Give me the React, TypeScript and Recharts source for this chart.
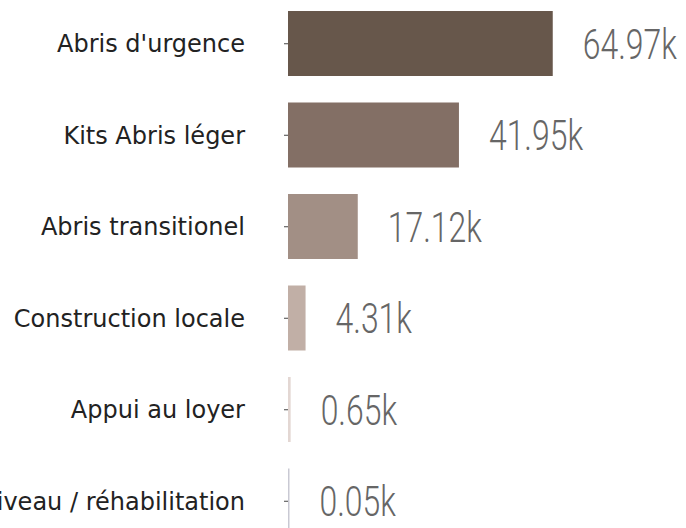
import { BarChart, Bar, XAxis, YAxis, Cell, LabelList } from "recharts";

const categories = [
  "Abris d'urgence",
  "Kits Abris léger",
  "Abris transitionel",
  "Construction locale",
  "Appui au loyer",
  "Mise à niveau / réhabilitation",
];

// values in thousands
const values = [64.97, 41.95, 17.12, 4.31, 0.65, 0.05];

const colors = ["#67574b", "#836f65", "#a28f85", "#c1afa6", "#e3d7d3", "#c9c9d3"];

const data = categories.map((name, i) => ({ name, value: values[i] }));

// narrow light value label, to get close to the condensed font of the original
function ValueLabel(props: any) {
  const { x, y, width, height, value } = props;
  const lx = Number(x) + Number(width) + 30;
  const ly = Number(y) + Number(height) / 2;
  return (
    <text
      x={0}
      y={0}
      transform={`translate(${lx},${ly}) scale(0.76,1)`}
      dy="0.36em"
      fill="#666"
      fontSize={42}
      fontWeight={300}
      fontFamily="Roboto, sans-serif"
    >
      {`${Number(value).toFixed(2)}k`}
    </text>
  );
}

export default function App() {
  return (
    <div
      style={{
        position: "absolute",
        left: 0,
        top: 0,
        width: 686,
        height: 528,
        overflow: "hidden",
        background: "#fff",
      }}
    >
      <div style={{ position: "relative", top: -2 }}>
        <BarChart
          width={686}
          height={549}
          data={data}
          layout="vertical"
          margin={{ top: 0, right: 72, bottom: 0, left: 0 }}
        >
          <XAxis type="number" domain={[0, 80]} hide />
          <YAxis
            type="category"
            dataKey="name"
            width={288}
            axisLine={false}
            tickSize={4}
            tickMargin={39}
            tickLine={{ stroke: "#444" }}
            tick={{ fill: "#222", fontSize: 24, fontFamily: "DejaVu Sans" }}
          />
          <Bar dataKey="value" barSize={65} minPointSize={1.5} isAnimationActive={false}>
            {data.map((d, i) => (
              <Cell key={d.name} fill={colors[i]} />
            ))}
            <LabelList dataKey="value" content={<ValueLabel />} />
          </Bar>
        </BarChart>
      </div>
    </div>
  );
}
